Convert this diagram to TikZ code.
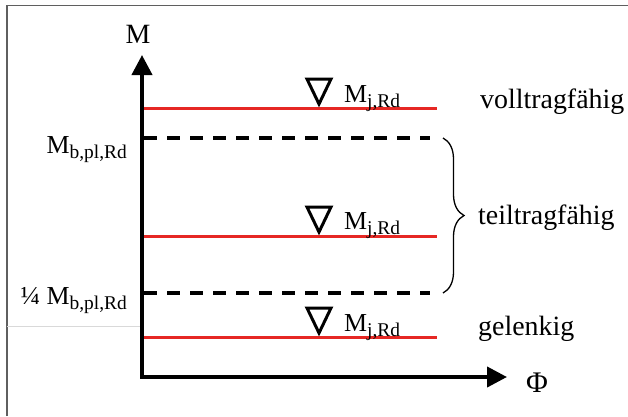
\documentclass[tikz,border=0pt]{standalone}
\usepackage{fontspec}
\setmainfont{Liberation Serif}
\usepackage{tikz}
\usetikzlibrary{arrows.meta, decorations.pathreplacing}
\definecolor{limitred}{RGB}{230,40,36}
\definecolor{framegray}{RGB}{95,95,95}
\newcommand{\classfont}{\fontsize{28}{34}\selectfont}
\newcommand{\momfont}{\fontsize{26}{30}\selectfont}
\newcommand{\idx}[1]{\raisebox{-5bp}{\fontsize{19.5}{22}\selectfont #1}}

\begin{document}
\begin{tikzpicture}[
        x=1bp, y=-1bp,
        axis/.style = {line width=4bp, line join=miter, {Triangle[length=20bp, width=20bp]}-{Triangle[length=20bp, width=20bp]}},
        resist/.style = {draw=limitred, line width=3bp},
        bound/.style = {draw=black, line width=3.2bp, dash pattern=on 13bp off 10bp},
        nabla/.style = {draw=black, line width=3bp, line join=miter},
        brace/.style = {draw=black, line width=1.3bp, decorate, decoration={brace, amplitude=21bp}},
        lbl/.style = {inner sep=0pt, font=\momfont},
        cls/.style = {inner sep=0pt, anchor=base west, font=\classfont}
    ]
        \useasboundingbox (0,0) rectangle (628,416);

        % Frame
        \draw [framegray, line width=1.5bp] (7,416) -- (7,5.5) -- (628,5.5);
        \draw [black!15, line width=1bp] (7,326) -- (140,326);

        % Axes
        \coordinate (o) at (142,377);
        \coordinate (mtop) at (142,55);
        \coordinate (phiend) at (507,377);
        \draw [axis] (mtop) -- (o) -- (phiend);
        \node (mlab) [lbl, anchor=base, font=\fontsize{28}{32}\selectfont] at (138,43) {M};
        \node (philab) [lbl, anchor=base west, font=\fontsize{30}{34}\selectfont] at (526,392) {Φ};

        % Boundaries
        \draw [bound] (144,138) -- (430,138);
        \draw [bound] (144,293) -- (430,293);
        \node (mpl) [lbl, anchor=base east] at (127,153) {M\idx{b,pl,Rd}};
        \node (mquart) [lbl, anchor=base east] at (127,304) {¼ M\idx{b,pl,Rd}};

        % Joint resistances
        \draw [resist] (144,108) -- (437,108);
        \draw [resist] (144,236) -- (437,236);
        \draw [resist] (144,337) -- (437,337);
        \draw [nabla] (307,79) -- (331,79) -- (319,104) -- cycle;
        \draw [nabla] (307,207) -- (331,207) -- (319,232) -- cycle;
        \draw [nabla] (307,308) -- (331,308) -- (319,333) -- cycle;
        \node (mj1) [lbl, anchor=base west] at (344,102) {M\idx{j,Rd}};
        \node (mj2) [lbl, anchor=base west] at (344,229) {M\idx{j,Rd}};
        \node (mj3) [lbl, anchor=base west] at (344,331) {M\idx{j,Rd}};

        % Classes
        \draw [brace] (443,138) -- (443,293);
        \node (full) [cls] at (480,108) {volltragfähig};
        \node (part) [cls] at (478,224) {teiltragfähig};
        \node (pin) [cls] at (478,335) {gelenkig};

    \end{tikzpicture}
\end{document}
